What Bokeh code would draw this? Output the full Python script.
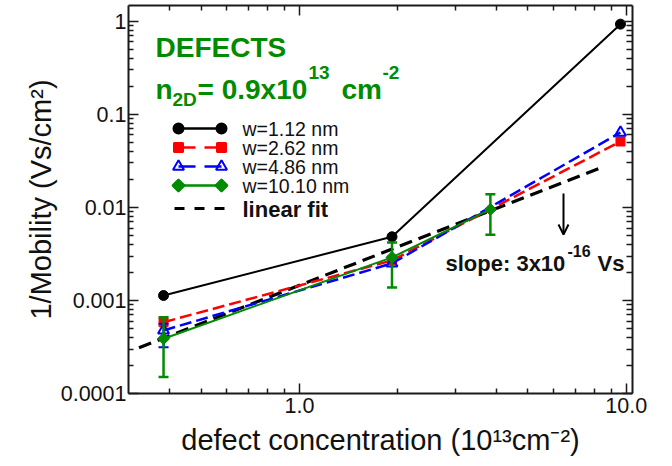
from math import log10, pi
from bokeh.plotting import figure
from bokeh.models import (Range1d, FixedTicker, CustomJSTickFormatter, LogAxis, Label,
                          Whisker, ColumnDataSource, Arrow, OpenHead, TeeHead)
from bokeh.embed import file_html
from bokeh.resources import INLINE

# ---------------- data ----------------
conc = [0.384, 1.92, 9.6]                 # defect concentration (1e13 cm^-2)
conc_w1010 = [0.384, 1.92, 3.84]
inv_mob_w112 = [0.00113, 0.00483, 0.93]
inv_mob_w262 = [0.000583, 0.00269, 0.051]
inv_mob_w486 = [0.000476, 0.0025, 0.0637]
inv_mob_w1010 = [0.000388, 0.0029, 0.0095]
err_lo_w1010 = [0.00015, 0.00138, 0.00508]
err_hi_w1010 = [0.00066, 0.0042, 0.0138]
conc_err_w486 = [0.384]
err_lo_w486 = [0.000314]
err_hi_w486 = [0.000561]
fit_conc = [0.323, 8.3]
fit_inv_mob = [0.00031, 0.0264]
series_labels = ["w=1.12 nm", "w=2.62 nm", "w=4.86 nm", "w=10.10 nm"]
fit_label = "linear fit"
x_title = "defect concentration (10\u00b9\u00b3cm\u207b\u00b2)"
y_title = "1/Mobility (Vs/cm\u00b2)"
x_ticks = [1.0, 10.0]
x_minor = [0.4, 0.5, 0.6, 0.7, 0.8, 0.9, 2, 3, 4, 5, 6, 7, 8, 9]
y_ticks = [1e-4, 1e-3, 1e-2, 1e-1, 1.0]
y_minor = [k * 10.0 ** e for e in range(-4, 0) for k in range(2, 10)]

# ---------------- layout ----------------
W, H = 672, 466
L, R, T, B = 128, 632, 5, 393
X0, X1 = 0.3, 10.45
Y0, Y1 = 1e-4, 1.475

def dx(px):
    return 10 ** (log10(X0) + (px - L) / (R - L) * (log10(X1) - log10(X0)))

def dy(py):
    return 10 ** (log10(Y0) + (B - py) / (B - T) * (log10(Y1) - log10(Y0)))

BLACK = "#000000"
RED = "#ff0000"
BLUE = "#0000ff"
GREEN = "#008b00"
FONT = "Liberation Sans"

p = figure(width=W, height=H, x_axis_type="log", y_axis_type="log",
           x_range=Range1d(X0, X1), y_range=Range1d(Y0, Y1),
           output_backend="svg", toolbar_location=None,
           min_border_left=L, min_border_right=W - R,
           min_border_top=T, min_border_bottom=H - B)
p.xgrid.visible = False
p.ygrid.visible = False
p.outline_line_color = None
p.background_fill_color = "white"
p.border_fill_color = "white"

xt = FixedTicker(ticks=x_ticks, minor_ticks=x_minor)
yt = FixedTicker(ticks=y_ticks, minor_ticks=y_minor)

def style(ax, labels, minor_len=5):
    ax.axis_line_width = 2
    ax.axis_line_color = "#1a1a1a"
    ax.major_tick_in = 10
    ax.major_tick_out = 0
    ax.minor_tick_in = minor_len
    ax.minor_tick_out = 0
    ax.major_tick_line_width = 1.5
    ax.minor_tick_line_width = 1.5
    ax.major_tick_line_color = "#1a1a1a"
    ax.minor_tick_line_color = "#1a1a1a"
    if labels:
        ax.major_label_text_font = FONT
        ax.major_label_text_font_size = "21.5px"
        ax.major_label_text_color = "#111111"
        ax.axis_label_text_font = FONT
        ax.axis_label_text_font_style = "normal"
        ax.axis_label_text_color = "#111111"
    else:
        ax.axis_label = None
        ax.major_label_text_font_size = "0px"
        ax.major_label_standoff = 0
        ax.formatter = CustomJSTickFormatter(code="return ''")

xa = p.xaxis[0]
xa.ticker = xt
xa.formatter = CustomJSTickFormatter(code="return tick.toFixed(1)")
style(xa, True)
xa.major_label_standoff = 4
xa.axis_label = x_title
xa.axis_label_text_font_size = "29px"
xa.axis_label_standoff = 8

ya = p.yaxis[0]
ya.ticker = yt
ya.formatter = CustomJSTickFormatter(code="return tick.toString()")
style(ya, True)
ya.major_label_standoff = 2
ya.axis_label = y_title
ya.axis_label_text_font_size = "29px"
ya.axis_label_standoff = 1

top_ax = LogAxis(ticker=xt)
style(top_ax, False)
p.add_layout(top_ax, "above")
right_ax = LogAxis(ticker=yt)
style(right_ax, False, minor_len=6)
p.add_layout(right_ax, "right")

# ---------------- data marks ----------------
p.line(fit_conc, fit_inv_mob, line_color=BLACK, line_width=3.2, line_dash="13 7")

p.line(conc, inv_mob_w112, line_color=BLACK, line_width=2)
p.scatter(conc, inv_mob_w112, marker="circle", size=10, fill_color=BLACK, line_color=BLACK)

p.line(conc, inv_mob_w262, line_color=RED, line_width=2.5, line_dash="12 5")
p.scatter(conc, inv_mob_w262, marker="square", size=9, fill_color=RED, line_color=RED)

p.line(conc, inv_mob_w486, line_color=BLUE, line_width=2.5, line_dash="12 5")
p.scatter(conc, inv_mob_w486, marker="triangle", size=11, fill_color=None,
          line_color=BLUE, line_width=2)
src_b = ColumnDataSource(dict(x=conc_err_w486, lo=err_lo_w486, hi=err_hi_w486))
p.add_layout(Whisker(source=src_b, base="x", lower="lo", upper="hi", line_color=BLUE,
                     line_width=2, level="glyph",
                     upper_head=TeeHead(size=10, line_color=BLUE, line_width=2),
                     lower_head=TeeHead(size=10, line_color=BLUE, line_width=2)))

p.line(conc_w1010, inv_mob_w1010, line_color=GREEN, line_width=2)
src_g = ColumnDataSource(dict(x=conc_w1010, lo=err_lo_w1010, hi=err_hi_w1010))
p.add_layout(Whisker(source=src_g, base="x", lower="lo", upper="hi", line_color=GREEN,
                     line_width=2.5, level="glyph",
                     upper_head=TeeHead(size=10, line_color=GREEN, line_width=2.5),
                     lower_head=TeeHead(size=10, line_color=GREEN, line_width=2.5)))
gs = p.scatter(conc_w1010, inv_mob_w1010, marker="square", angle=pi / 4, size=8.5,
               fill_color=GREEN, line_color=GREEN)
gs.level = "overlay"

# ---------------- legend (drawn like the original) ----------------
rows = [128, 147, 166, 185]
leg_styles = [
    dict(color=BLACK, dash="solid", marker="circle", size=10, fill=BLACK, angle=0),
    dict(color=RED, dash="17 9", marker="square", size=9, fill=RED, angle=0),
    dict(color=BLUE, dash="17 9", marker="triangle", size=11, fill=None, angle=0),
    dict(color=GREEN, dash="solid", marker="square", size=8.5, fill=GREEN, angle=pi / 4),
]
for ry, st, lab in zip(rows, leg_styles, series_labels):
    p.line([dx(178), dx(221)], [dy(ry), dy(ry)], line_color=st["color"], line_width=2.5,
           line_dash=st["dash"])
    p.scatter([dx(178), dx(221)], [dy(ry), dy(ry)], marker=st["marker"], size=st["size"],
              angle=st["angle"], fill_color=st["fill"], line_color=st["color"], line_width=2)
    p.add_layout(Label(x=dx(242), y=dy(ry), text=lab, text_font=FONT, text_font_size="19.5px",
                       text_baseline="middle", text_color="#111111"))
p.line([dx(174), dx(224)], [dy(208), dy(208)], line_color=BLACK, line_width=3, line_dash="10 10")
p.add_layout(Label(x=dx(242), y=dy(209), text=fit_label, text_font=FONT, text_font_size="22px",
                   text_font_style="bold", text_baseline="middle", text_color="#111111"))

# ---------------- annotations ----------------
def lab(text, px, py, size, bold=False, color="#111111", angle=0.0):
    p.add_layout(Label(x=dx(px), y=dy(py), text=text, text_font=FONT,
                       text_font_size=f"{size}px", text_font_style="bold" if bold else "normal",
                       text_color=color, angle=angle, text_baseline="alphabetic",
                       text_align="left"))

lab("DEFECTS", 155, 47, 28, True, GREEN)
lab("n", 155, 89, 28, True, GREEN)
lab("2D", 172, 99, 19, True, GREEN)
lab("= 0.9x10", 197, 89, 28, True, GREEN)
lab("13", 308, 72, 19, True, GREEN)
lab("cm", 341, 89, 28, True, GREEN)
lab("-2", 382, 72, 19, True, GREEN)

lab("slope: 3x10", 445, 263, 22, True)
lab("-16", 567, 250, 16, True)
lab("Vs", 597, 263, 22, True)

p.add_layout(Arrow(end=OpenHead(size=10, line_width=2, line_color=BLACK),
                   x_start=dx(563), y_start=dy(193), x_end=dx(563), y_end=dy(234),
                   line_width=2, line_color=BLACK))

open("out.html", "w").write(file_html(p, INLINE))
